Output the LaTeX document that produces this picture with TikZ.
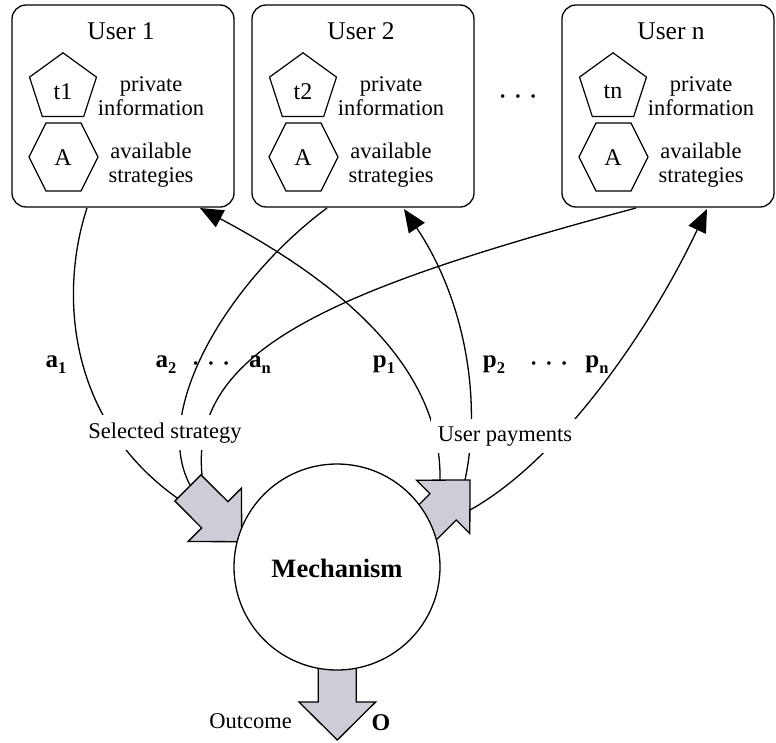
\documentclass[tikz,border=0pt]{standalone}
\usepackage{fontspec}
\setmainfont{Liberation Serif}
\usetikzlibrary{arrows.meta,shapes.geometric}
\definecolor{blockfill}{RGB}{205,205,215}

\begin{document}
\begin{tikzpicture}[x=1pt,y=-1pt,
  userbox/.style={draw, rounded corners=14pt, line width=1.3pt,
    minimum height=202pt, inner sep=0pt},
  title/.style={font=\fontsize{25.5}{28}\selectfont, anchor=base},
  desc/.style={font=\fontsize{22.5}{23.5}\selectfont, align=center},
  shapelabel/.style={font=\fontsize{24}{26}\selectfont},
  pent/.style={draw, regular polygon, regular polygon sides=5,
    minimum size=70.4pt, inner sep=0pt, line width=1.2pt},
  link/.style={line width=1.3pt},
  linkarrow/.style={link, -{Triangle[length=23pt,width=19pt]}},
  caption/.style={font=\fontsize{22.5}{24}\selectfont, fill=white,
    inner sep=7pt, anchor=base},
  sym/.style={font=\fontsize{25}{27}\selectfont\bfseries, anchor=base},
  ellip/.style={font=\fontsize{15}{15}\selectfont, anchor=base},
  block/.style={draw, fill=blockfill, line width=1.3pt, line join=miter},
  hexagonshape/.pic={
    \draw[line width=1.2pt] (-34.5,0) -- (-17.5,-34) -- (17.5,-34)
      -- (34.5,0) -- (17.5,34) -- (-17.5,34) -- cycle;
  },
]
\newcommand{\subidx}[1]{\raisebox{-6.5pt}{\fontsize{16.5}{17}\selectfont\bfseries #1}}
\useasboundingbox (0,0) rectangle (776,742);

% ---- users -------------------------------------------------------
\node[userbox, minimum width=222pt] (u1) at (123,106) {};
\node[userbox, minimum width=222pt] (u2) at (363,106) {};
\node[userbox, minimum width=212pt] (u3) at (668,106) {};

\node[title] (u1t) at (121,39.5) {User 1};
\node[title] (u2t) at (361,39.5) {User 2};
\node[title] (u3t) at (671,39.5) {User n};

\node[pent] (pt1) at (63,88) {};
\node[pent] (pt2) at (303,88) {};
\node[pent] (pt3) at (613,88) {};
\node[shapelabel] (t1) at (63,92) {t1};
\node[shapelabel] (t2) at (303,92) {t2};
\node[shapelabel] (t3) at (613,92) {tn};

\pic at (63.5,157) {hexagonshape};
\pic at (303.5,157) {hexagonshape};
\pic at (613.5,157) {hexagonshape};
\node[shapelabel] (s1) at (63,158) {A};
\node[shapelabel] (s2) at (303,158) {A};
\node[shapelabel] (s3) at (613,158) {A};

\node[desc] (pi1) at (151,96) {private\\information};
\node[desc] (pi2) at (391,96) {private\\information};
\node[desc] (pi3) at (701,96) {private\\information};
\node[desc] (as1) at (151,165) {available\\strategies};
\node[desc] (as2) at (391,165) {available\\strategies};
\node[desc] (as3) at (701,165) {available\\strategies};

\node[ellip] (udots) at (518,101) {•\hspace{10pt}•\hspace{10pt}•};

% ---- connector end points -----------------------------------------
\coordinate (a1s) at (87,208);
\coordinate (a2s) at (327,208);
\coordinate (ans) at (636,208);
\coordinate (a1e) at (180,500);
\coordinate (a2e) at (190,485);
\coordinate (ane) at (202,475);
\coordinate (p1s) at (440,480);
\coordinate (p2s) at (465,480);
\coordinate (pns) at (470,510);
\coordinate (p1e) at (200,208);
\coordinate (p2e) at (404,209);
\coordinate (pne) at (707,209);

% ---- strategies and payments ---------------------------------------
\draw[link] (a1s) .. controls (60,290) and (65,420) .. (a1e);
\draw[link] (a2s) .. controls (230,280) and (150,410) .. (a2e);
\draw[link] (ans) .. controls (330,290) and (190,350) .. (ane);
\draw[linkarrow] (p1s) .. controls (442,370) and (345,285) .. (p1e);
\draw[linkarrow] (p2s) .. controls (482,400) and (465,300) .. (p2e);
\draw[linkarrow] (pns) .. controls (560,460) and (650,330) .. (pne);

\node[sym] (la1) at (56,367) {a\subidx{1}};
\node[sym] (la2) at (166,367) {a\subidx{2}};
\node[ellip] (adots) at (211,368) {•\hspace{10pt}•\hspace{10pt}•};
\node[sym] (lan) at (260,367) {a\subidx{n}};
\node[sym] (lp1) at (384,367) {p\subidx{1}};
\node[sym] (lp2) at (494,367) {p\subidx{2}};
\node[ellip] (pdots) at (549,368) {•\hspace{10pt}•\hspace{10pt}•};
\node[sym] (lpn) at (597,367) {p\subidx{n}};

\node[caption] (sel) at (165,438) {Selected strategy};
\node[caption] (pay) at (505,441) {User payments};

% ---- block arrows into and out of the mechanism ---------------------
\draw[block] (201.0,474.9) -- (227.9,501.7) -- (241.5,488.1) -- (241.7,541.7)
  -- (188.1,541.5) -- (201.7,527.9) -- (174.9,501.0) -- cycle;
\draw[block] (403.2,520.6) -- (430.0,493.8) -- (416.4,480.2) -- (470.0,480.0)
  -- (469.8,533.6) -- (456.2,520.0) -- (429.4,546.8) -- cycle;
\draw[block] (318.3,664) -- (318.3,702) -- (299.0,702) -- (337.3,740)
  -- (375.6,702) -- (356.3,702) -- (356.3,664) -- cycle;

% ---- mechanism -----------------------------------------------------
\node[draw, circle, fill=white, minimum size=206pt, inner sep=0pt,
  line width=1.3pt] (mech) at (337,567) {};
\node[font=\fontsize{26.5}{28}\selectfont\bfseries, anchor=base] (mecht)
  at (337,577) {Mechanism};

\node[font=\fontsize{22.5}{24}\selectfont, anchor=base] (outc) at (250.5,728) {Outcome};
\node[font=\fontsize{24}{25}\selectfont\bfseries, anchor=base] (outo) at (381,730) {O};
\end{tikzpicture}
\end{document}
